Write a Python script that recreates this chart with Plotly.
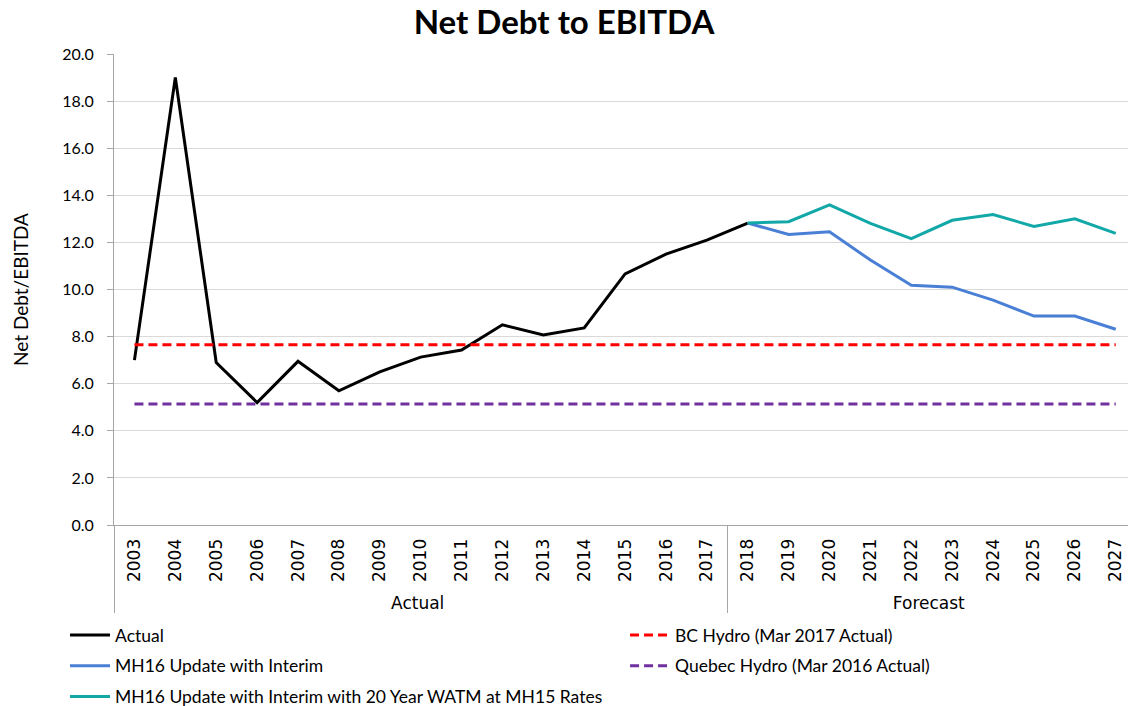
import plotly.graph_objects as go

years = [str(y) for y in range(2003, 2028)]
groups = ["Actual"] * 15 + ["Forecast"] * 10

actual = [7.0, 19.0, 6.9, 5.2, 6.95, 5.7, 6.5, 7.13, 7.43, 8.5, 8.07, 8.37, 10.66, 11.5, 12.1, 12.82]
mh16 = [12.82, 12.34, 12.45, 11.25, 10.18, 10.1, 9.55, 8.87, 8.87, 8.31]
mh16_watm = [12.82, 12.88, 13.59, 12.81, 12.16, 12.94, 13.18, 12.68, 13.0, 12.38]
bc_hydro = 7.65
quebec_hydro = 5.14

FONT = "Lato"

fig = go.Figure()
fig.add_trace(go.Scatter(x=[groups[:16], years[:16]], y=actual, mode="lines",
                         name="Actual", legend="legend", legendgroup="a",
                         line=dict(color="#000000", width=3)))
fig.add_trace(go.Scatter(x=[groups[15:], years[15:]], y=mh16, mode="lines",
                         name="MH16 Update with Interim", legend="legend", legendgroup="b",
                         line=dict(color="#4A7FD6", width=3)))
fig.add_trace(go.Scatter(x=[groups[15:], years[15:]], y=mh16_watm, mode="lines",
                         name="MH16 Update with Interim with 20 Year WATM at MH15 Rates",
                         legend="legend", legendgroup="c",
                         line=dict(color="#12A8A8", width=3)))
fig.add_trace(go.Scatter(x=[groups, years], y=[bc_hydro] * 25, mode="lines",
                         name="BC Hydro (Mar 2017 Actual)", legend="legend2", legendgroup="d",
                         line=dict(color="#FF0000", width=3, dash="9px,5px")))
fig.add_trace(go.Scatter(x=[groups, years], y=[quebec_hydro] * 25, mode="lines",
                         name="Quebec Hydro (Mar 2016 Actual)", legend="legend2", legendgroup="e",
                         line=dict(color="#7030A0", width=3, dash="9px,5px")))

legend_common = dict(orientation="v", xanchor="left", xref="paper", yref="container",
                     yanchor="top", y=0.126, tracegroupgap=5, itemwidth=40,
                     bgcolor="rgba(0,0,0,0)",
                     font=dict(family=FONT, size=17.5, color="#000000"))

fig.update_layout(
    width=1128, height=706,
    margin=dict(l=114, r=0, t=54, b=181),
    paper_bgcolor="white", plot_bgcolor="white",
    font=dict(family=FONT, size=14, color="#000000"),
    title=dict(text="<b>Net Debt to EBITDA</b>", x=0.5, xanchor="center", y=0.968, yanchor="middle",
               font=dict(family=FONT, size=33, color="#000000")),
    showlegend=True,
    legend=dict(x=-0.0483, **legend_common),
    legend2=dict(x=0.504, **legend_common),
)
fig.update_yaxes(range=[0, 20], dtick=2, tickformat=".1f", showgrid=True, gridcolor="#D9D9D9",
                 showline=True, linecolor="#A6A6A6", ticks="outside", ticklen=6, tickcolor="#A6A6A6",
                 zeroline=False, tickfont=dict(family=FONT, size=16), ticklabelstandoff=10,
                 automargin=False,
                 title=dict(text="Net Debt/EBITDA", font=dict(family=FONT, size=19), standoff=28))
fig.update_xaxes(type="multicategory", range=[-0.5, 24.3], showline=True, linecolor="#A6A6A6",
                 showdividers=True, dividercolor="#A6A6A6", dividerwidth=1, tickangle=-90,
                 ticks="", ticklabelstandoff=6, automargin=False,
                 tickfont=dict(family="DejaVu Sans", size=17), showgrid=False)

fig.write_html("out.html", config={"displayModeBar": False},
               post_script="document.body.style.margin='0px';")
